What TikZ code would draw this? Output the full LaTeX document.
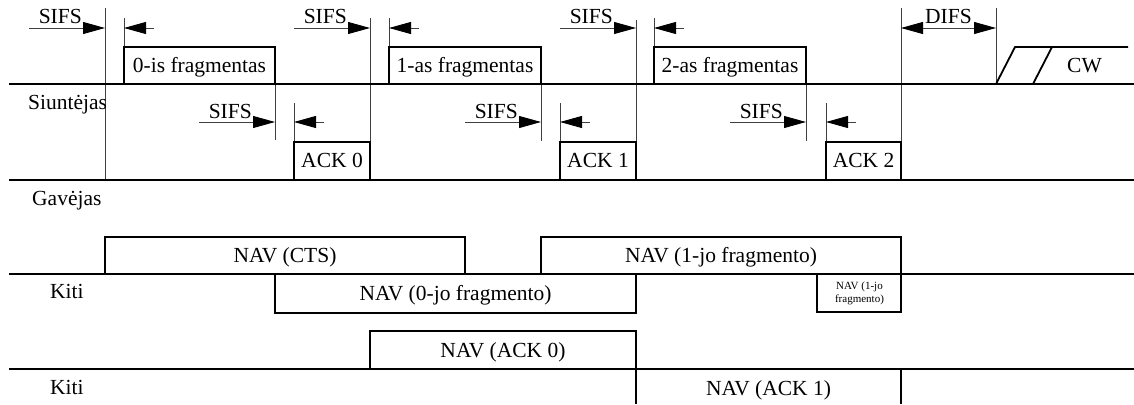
\documentclass[tikz,border=0pt]{standalone}
\usepackage{fontspec}
\setmainfont{Liberation Serif}
\usetikzlibrary{arrows.meta}
\begin{document}
\begin{tikzpicture}[x=1pt,y=-1pt,
  thickline/.style={line width=1.8pt, black},
  thinline/.style={line width=0.9pt, black!75},
  lbl/.style={font=\fontsize{21.5}{24}\selectfont, inner sep=0pt, anchor=base},
  smalllbl/.style={font=\fontsize{11}{13}\selectfont, inner sep=0pt, align=center},
  tipr/.style={-{Triangle[length=22pt,width=12pt,black]}},
  tipb/.style={{Triangle[length=22pt,width=12pt,black]}-{Triangle[length=22pt,width=12pt,black]}},
]
\useasboundingbox (0,0) rectangle (1134,404);

% thin vertical timing lines
\foreach \x/\ya/\yb in {105/8/180, 124/18/47, 275/84/140, 294/103/142, 370/18/142,
  389/18/47, 541/84/141, 560/103/142, 636/20/142, 654/18/47, 806/84/141,
  826/103/142, 901/8/142, 996/8/84}
  \draw[thinline] (\x,\ya) -- (\x,\yb);

% SIFS arrows, top row
\foreach \a/\b/\n in {105/124/1, 370/389/2, 636/654/3} {
  \coordinate (st\n) at (\a,28);
  \coordinate (ss\n) at ({\a-76},28);
  \coordinate (bt\n) at (\b,28);
  \coordinate (bs\n) at ({\b+30},28);
  \draw[thinline, tipr] (ss\n) -- (st\n);
  \draw[thinline, tipr] (bs\n) -- (bt\n);
  \node[lbl, anchor=base east] (sifs\n) at ({\a-23},24) {SIFS};
}
% SIFS arrows, second row
\foreach \a/\b/\n in {275/294/4, 541/560/5, 806/826/6} {
  \coordinate (st\n) at (\a,122);
  \coordinate (ss\n) at ({\a-76},122);
  \coordinate (bt\n) at (\b,122);
  \coordinate (bs\n) at ({\b+30},122);
  \draw[thinline, tipr] (ss\n) -- (st\n);
  \draw[thinline, tipr] (bs\n) -- (bt\n);
  \node[lbl, anchor=base east] (sifs\n) at ({\a-23},118) {SIFS};
}
% DIFS
\coordinate (da) at (901,28);
\coordinate (db) at (996,28);
\draw[thinline, tipb] (da) -- (db);
\node[lbl] (difs) at (948.5,24) {DIFS};

% base lines
\draw[thickline] (9,84) -- (1134,84);
\draw[thickline] (9,180) -- (1134,180);
\draw[thickline] (9,274) -- (1134,274);
\draw[thickline] (9,369) -- (1134,369);

% fragments
\draw[thickline] (124,47) rectangle (275,84);
\draw[thickline] (389,47) rectangle (541,84);
\draw[thickline] (654,47) rectangle (806,84);
\node[lbl] (f0) at (199.5,73) {0-is fragmentas};
\node[lbl] (f1) at (465,73) {1-as fragmentas};
\node[lbl] (f2) at (730,73) {2-as fragmentas};

% ACKs
\draw[thickline] (294,142) rectangle (370,180);
\draw[thickline] (560,142) rectangle (636,180);
\draw[thickline] (826,142) rectangle (901,180);
\node[lbl] (a0) at (332,167) {ACK 0};
\node[lbl] (a1) at (598,167) {ACK 1};
\node[lbl] (a2) at (863.5,167) {ACK 2};

% CW
\draw[thickline] (996,84) -- (1015,47) -- (1128,47);
\draw[thickline] (1033,84) -- (1052,47);
\node[lbl] (cw) at (1084.5,72) {CW};

% NAV boxes
\draw[thickline] (105,237) rectangle (465,274);
\draw[thickline] (541,237) rectangle (901,274);
\draw[thickline] (275,274) rectangle (636,313);
\draw[thickline] (817,274) rectangle (901,312);
\draw[thickline] (370,331) rectangle (636,369);
\draw[thickline] (636,404) -- (636,369);
\draw[thickline] (901,369) -- (901,404);
\node[lbl] (ncts) at (285,262) {NAV (CTS)};
\node[lbl] (n1) at (721,262) {NAV (1-jo fragmento)};
\node[lbl] (n0) at (455.5,300) {NAV (0-jo fragmento)};
\node[smalllbl] (n1s) at (859.5,293) {NAV (1-jo\\fragmento)};
\node[lbl] (nack0) at (503,357) {NAV (ACK 0)};
\node[lbl] (nack1) at (768.5,395) {NAV (ACK 1)};

% side labels
\node[lbl, anchor=base west] (snd) at (28,109) {Siuntėjas};
\node[lbl, anchor=base west] (rcv) at (32,205) {Gavėjas};
\node[lbl, anchor=base west] (k1) at (50,298) {Kiti};
\node[lbl, anchor=base west] (k2) at (50,394) {Kiti};
\end{tikzpicture}
\end{document}
